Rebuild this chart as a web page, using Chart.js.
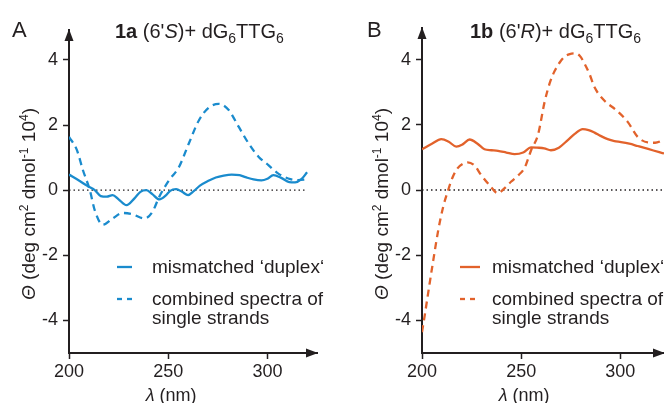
<!DOCTYPE html>
<html>
<head>
<meta charset="utf-8">
<script src="https://cdn.jsdelivr.net/npm/chart.js@4.4.1/dist/chart.umd.min.js"></script>
<style>
  html, body { margin: 0; padding: 0; background: #fff; }
  #wrap { position: relative; width: 664px; height: 403px; overflow: hidden; }
  canvas { position: absolute; top: 0; }
  #panelA { left: 0; }
  #panelB { left: 332px; }
</style>
</head>
<body>
<div id="wrap">
  <canvas id="panelA" width="332" height="403"></canvas>
  <canvas id="panelB" width="332" height="403"></canvas>
</div>
<script>
// tick labels
const xTicks = [200, 250, 300];
const yTicks = [-4, -2, 0, 2, 4];

// panel A : 1a (6'S) + dG6TTG6
const nmA_duplex = [200, 205, 209, 213, 216, 219, 222, 225, 229, 233, 236, 239, 242, 245.5, 249, 251, 254, 257, 260, 263, 266, 270, 274, 278, 282, 286, 289, 293, 297, 300, 303, 307, 311, 314, 317, 320];
const thA_duplex = [0.48, 0.3, 0.14, 0.0, -0.18, -0.2, -0.15, -0.28, -0.46, -0.25, -0.05, 0.0, -0.12, -0.28, -0.15, -0.02, 0.03, -0.05, -0.15, -0.02, 0.14, 0.28, 0.39, 0.45, 0.48, 0.46, 0.4, 0.33, 0.3, 0.35, 0.46, 0.38, 0.25, 0.24, 0.33, 0.55];
const nmA_single = [200, 204, 207, 210.5, 213, 217, 222, 227, 232, 238, 242, 245.5, 250.5, 255.5, 260.5, 265.5, 270.5, 275.5, 280.5, 285.5, 290.5, 295.5, 300.5, 305.5, 310.5, 315.5, 320];
const thA_single = [1.64, 1.23, 0.62, 0.0, -0.62, -1.06, -0.87, -0.7, -0.74, -0.87, -0.67, -0.2, 0.31, 0.72, 1.45, 2.15, 2.54, 2.65, 2.46, 1.95, 1.44, 1.03, 0.77, 0.51, 0.36, 0.31, 0.33];

// panel B : 1b (6'R) + dG6TTG6
const nmB_duplex = [200, 205, 209.7, 213.5, 217.3, 220.5, 224, 228, 231.5, 235, 238.3, 242.5, 246.7, 251, 255, 258, 261.6, 265, 269, 273.5, 277, 281, 284, 287, 290, 293.6, 297, 300.3, 304.5, 308.7, 314, 319.6, 322];
const thB_duplex = [1.25, 1.42, 1.56, 1.48, 1.33, 1.4, 1.55, 1.42, 1.25, 1.22, 1.2, 1.15, 1.1, 1.15, 1.31, 1.3, 1.28, 1.22, 1.3, 1.53, 1.72, 1.87, 1.84, 1.76, 1.66, 1.56, 1.5, 1.47, 1.42, 1.35, 1.26, 1.16, 1.12];
const nmB_single = [200, 201.5, 203, 205.7, 208.2, 210.7, 213.2, 215.5, 218, 220.5, 223, 226.5, 229.8, 234, 238.3, 241.5, 245, 248.5, 251.8, 255, 258.5, 261.8, 264.5, 266.8, 269.5, 271.9, 274.5, 277, 279.5, 282, 284.5, 287, 292, 297.9, 303.7, 308.7, 313.8, 317.5, 322];
const thB_single = [-4.36, -3.8, -3.2, -2.15, -1.23, -0.51, 0.0, 0.4, 0.67, 0.8, 0.85, 0.75, 0.46, 0.15, -0.1, 0.05, 0.26, 0.45, 0.69, 1.22, 1.7, 2.7, 3.3, 3.64, 3.92, 4.09, 4.17, 4.19, 4.12, 3.87, 3.55, 3.15, 2.74, 2.45, 2.09, 1.63, 1.46, 1.45, 1.54];

const legendLabels = ['mismatched \u2018duplex\u2018', ['combined spectra of', 'single strands']];

const FONT = "'Liberation Sans', Arial, Helvetica, sans-serif";
const INK = '#231f20';
const BLUE = '#1a8bcd';
const ORANGE = '#e2622b';

// small rich-text helpers (bold / italic / sub / sup pieces)
const n = (t, size = 19) => ({ t, size });
const b = (t, size = 19) => ({ t, size, bold: true });
const it = (t, size = 19) => ({ t, size, italic: true });
const sub = (t, size = 13) => ({ t, size, dy: 5 });
const sup = (t) => ({ t, size: 12, dy: -7 });

function setFont(ctx, s) {
  ctx.font = (s.italic ? 'italic ' : '') + (s.bold ? 'bold ' : '') + s.size + 'px ' + FONT;
}

function drawRich(ctx, segs, x, y, align) {
  let total = 0;
  segs.forEach(s => { setFont(ctx, s); total += ctx.measureText(s.t).width; });
  let cx = align === 'center' ? x - total / 2 : x;
  ctx.textAlign = 'left';
  ctx.textBaseline = 'alphabetic';
  ctx.fillStyle = INK;
  segs.forEach(s => {
    setFont(ctx, s);
    ctx.fillText(s.t, cx, y + (s.dy || 0));
    cx += ctx.measureText(s.t).width;
  });
}

const yTitle = [it('\u0398'), n(' (deg cm'), sup('2'), n(' dmol'), sup('-1'), n(' 10'), sup('4'), n(')')];
const xTitle = [it('\u03bb', 18), n(' (nm)', 18)];

const toXY = (xs, ys) => xs.map((x, i) => ({ x, y: ys[i] }));

function makePanel(id, p) {
  const decor = {
    id: 'decor_' + id,
    afterDraw(chart) {
      const ctx = chart.ctx;
      const a = chart.chartArea;
      const xs = chart.scales.x;
      ctx.save();

      // arrow heads on the axes
      ctx.fillStyle = INK;
      ctx.beginPath();
      ctx.moveTo(a.left, a.top - 1);
      ctx.lineTo(a.left - 4.5, a.top + 11);
      ctx.lineTo(a.left + 4.5, a.top + 11);
      ctx.closePath();
      ctx.fill();
      ctx.beginPath();
      ctx.moveTo(a.right + 1, a.bottom);
      ctx.lineTo(a.right - 11, a.bottom - 4.5);
      ctx.lineTo(a.right - 11, a.bottom + 4.5);
      ctx.closePath();
      ctx.fill();

      // panel letter and title
      ctx.fillStyle = INK;
      ctx.font = '22px ' + FONT;
      ctx.textAlign = 'left';
      ctx.textBaseline = 'alphabetic';
      ctx.fillText(p.letter, p.letterX, 37);
      drawRich(ctx, p.title, p.titleX, 38, 'left');

      // axis titles
      drawRich(ctx, xTitle, xs.getPixelForValue(251.5), 401, 'center');
      ctx.save();
      ctx.translate(a.left - 34, 204);
      ctx.rotate(-Math.PI / 2);
      drawRich(ctx, yTitle, 0, 0, 'center');
      ctx.restore();

      // legend
      const ds = chart.data.datasets;
      const rows = [{ d: ds[0], y: 267, texts: [legendLabels[0]], ty: 273 },
                    { d: ds[1], y: 299, texts: legendLabels[1], ty: 305 }];
      rows.forEach(r => {
        ctx.strokeStyle = r.d.borderColor;
        ctx.lineWidth = r.d.borderWidth;
        ctx.setLineDash(r.d.borderDash && r.d.borderDash.length ? [5, 5] : []);
        ctx.beginPath();
        ctx.moveTo(p.legX0, r.y);
        ctx.lineTo(p.legX1, r.y);
        ctx.stroke();
        ctx.setLineDash([]);
        ctx.fillStyle = INK;
        ctx.font = '19px ' + FONT;
        r.texts.forEach((t, k) => ctx.fillText(t, p.legText, r.ty + k * 19));
      });
      ctx.restore();
    }
  };

  return new Chart(document.getElementById(id), {
    type: 'line',
    data: {
      datasets: [
        { label: legendLabels[0], data: toXY(p.nmDuplex, p.thDuplex), borderColor: p.color, borderWidth: 2.3,
          pointRadius: 0, cubicInterpolationMode: 'monotone', fill: false },
        { label: legendLabels[1].join(' '), data: toXY(p.nmSingle, p.thSingle), borderColor: p.color, borderWidth: 2.3,
          borderDash: [7, 5], pointRadius: 0, cubicInterpolationMode: 'monotone', fill: false },
        { label: 'zero', data: [{ x: 200, y: 0 }, { x: p.zeroEnd, y: 0 }], borderColor: INK, borderWidth: 1.3,
          borderDash: [1.5, 3], pointRadius: 0, fill: false }
      ]
    },
    options: {
      responsive: false,
      animation: false,
      layout: { padding: { left: 0, right: p.padRight, top: p.padTop, bottom: 0 } },
      plugins: { legend: { display: false }, tooltip: { enabled: false } },
      scales: {
        x: {
          type: 'linear', min: 200, max: p.xMax,
          afterBuildTicks: s => { s.ticks = xTicks.map(v => ({ value: v })); },
          afterFit: s => { s.height = 50; },
          ticks: { color: INK, font: { family: FONT, size: 18 }, padding: 2, maxRotation: 0 },
          grid: { drawOnChartArea: false, tickLength: 6, tickColor: INK, tickWidth: 1.5 },
          border: { color: INK, width: 2 }
        },
        y: {
          type: 'linear', min: -5, max: p.yMax,
          afterBuildTicks: s => { s.ticks = yTicks.map(v => ({ value: v })); },
          afterFit: s => { s.width = p.yWidth; },
          ticks: { color: INK, font: { family: FONT, size: 18 }, padding: 5 },
          grid: { drawOnChartArea: false, tickLength: 6, tickColor: INK, tickWidth: 1.5 },
          border: { color: INK, width: 2 }
        }
      }
    },
    plugins: [decor]
  });
}

makePanel('panelA', {
  color: BLUE, nmDuplex: nmA_duplex, thDuplex: thA_duplex, nmSingle: nmA_single, thSingle: thA_single,
  xMax: 325, yMax: 4.92, yWidth: 69, padRight: 15, padTop: 30, zeroEnd: 320,
  letter: 'A', letterX: 12, titleX: 115,
  title: [b('1a', 20), n(' (6\'', 20), it('S', 20), n(')+ dG', 20), sub('6', 14), n('TTG', 20), sub('6', 14)],
  legX0: 117, legX1: 132, legText: 152
});

makePanel('panelB', {
  color: ORANGE, nmDuplex: nmB_duplex, thDuplex: thB_duplex, nmSingle: nmB_single, thSingle: thB_single,
  xMax: 322, yMax: 4.97, yWidth: 90, padRight: 0, padTop: 28, zeroEnd: 322,
  letter: 'B', letterX: 35, titleX: 138,
  title: [b('1b', 20), n(' (6\'', 20), it('R', 20), n(')+ dG', 20), sub('6', 14), n('TTG', 20), sub('6', 14)],
  legX0: 128, legX1: 148, legText: 160
});
</script>
</body>
</html>
